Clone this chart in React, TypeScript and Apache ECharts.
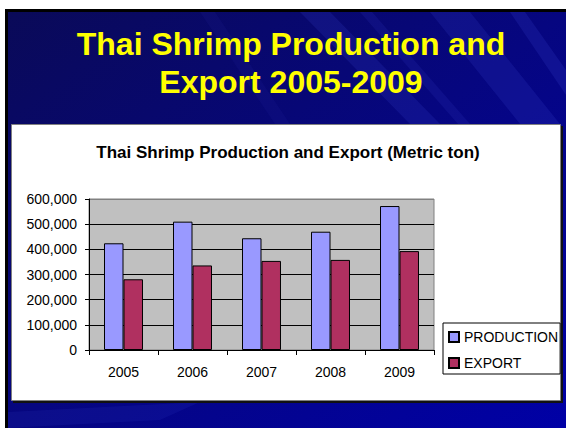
import React, { useEffect, useRef } from "react";
import * as echarts from "echarts";

const years = ["2005", "2006", "2007", "2008", "2009"];
const production = [424000, 510000, 444000, 470000, 572000];
const exportVals = [281000, 336000, 354000, 358000, 393000];
const seriesNames = ["PRODUCTION", "EXPORT"];
const titleLines = ["Thai Shrimp Production and", "Export 2005-2009"];
const chartTitle = "Thai Shrimp Production and Export (Metric ton)";

const FONT = 'Arial, "Liberation Sans", Helvetica, sans-serif';

export default function App() {
  const ref = useRef<HTMLDivElement>(null);
  useEffect(() => {
    if (!ref.current) return;
    const chart = echarts.init(ref.current, null, { renderer: "svg" });
    const streak = (pts: number[][], op: number) => ({
      type: "polygon",
      z: -9,
      silent: true,
      shape: { points: pts },
      style: { fill: `rgba(60,70,210,${op})` },
    });
    const titleStyle = (text: string, y: number) => ({
      type: "text",
      z: 5,
      style: {
        x: 291,
        y,
        text,
        fill: "#ffff00",
        font: `bold 32px ${FONT}`,
        align: "center",
        verticalAlign: "middle",
        textShadowColor: "rgba(0,0,0,0.85)",
        textShadowOffsetX: 2,
        textShadowOffsetY: 2,
        textShadowBlur: 0,
      },
    });
    chart.setOption({
      animation: false,
      backgroundColor: "#ffffff",
      textStyle: { fontFamily: FONT },
      graphic: [
        { type: "rect", z: -10, silent: true, shape: { x: 5, y: 9, width: 561, height: 419 }, style: { fill: "#000" } },
        {
          type: "rect",
          z: -10,
          silent: true,
          shape: { x: 8, y: 12, width: 558, height: 416 },
          style: {
            fill: new echarts.graphic.LinearGradient(0, 0, 1, 1, [
              { offset: 0, color: "#0a0a58" },
              { offset: 0.5, color: "#060680" },
              { offset: 1, color: "#0000a6" },
            ]),
          },
        },
        streak([[300, 12], [330, 12], [440, 124], [410, 124]], 0.18),
        streak([[360, 12], [372, 12], [470, 124], [458, 124]], 0.15),
        streak([[430, 12], [470, 12], [560, 124], [520, 124]], 0.18),
        streak([[510, 12], [525, 12], [566, 70], [566, 95]], 0.2),
        streak([[200, 12], [215, 12], [290, 124], [275, 124]], 0.08),
        streak([[8, 428], [8, 412], [200, 402], [160, 420]], 0.12),
        titleStyle(titleLines[0], 43.5),
        titleStyle(titleLines[1], 82),
        { type: "rect", z: -8, silent: true, shape: { x: 13, y: 126, width: 550, height: 277 }, style: { fill: "#111" } },
        {
          type: "rect",
          z: -7,
          silent: true,
          shape: { x: 11.5, y: 124.5, width: 549, height: 276 },
          style: { fill: "#fff", stroke: "#808080", lineWidth: 1 },
        },
        {
          type: "text",
          z: 5,
          style: {
            x: 288,
            y: 152,
            text: chartTitle,
            fill: "#000",
            font: `bold 17px ${FONT}`,
            align: "center",
            verticalAlign: "middle",
          },
        },
      ],
      grid: {
        left: 89,
        top: 199,
        width: 345,
        height: 151,
        show: true,
        backgroundColor: "#c0c0c0",
        borderColor: "#808080",
        borderWidth: 1,
        containLabel: false,
      },
      legend: {
        orient: "vertical",
        left: 443,
        top: 323,
        data: seriesNames,
        icon: "rect",
        itemWidth: 10,
        itemHeight: 10,
        itemGap: 12,
        itemTextGap: 2,
        padding: [7, 2, 4, 5],
        borderColor: "#000",
        borderWidth: 1,
        backgroundColor: "#fff",
        textStyle: { fontSize: 14, color: "#000", fontFamily: FONT },
      },
      xAxis: {
        type: "category",
        data: years,
        axisLine: { show: true, lineStyle: { color: "#000", width: 1 } },
        axisTick: { show: true, length: 5, alignWithLabel: false, lineStyle: { color: "#000" } },
        axisLabel: { fontSize: 14, color: "#000", margin: 15, fontFamily: FONT },
        splitLine: { show: false },
      },
      yAxis: {
        type: "value",
        min: 0,
        max: 600000,
        interval: 100000,
        axisLine: { show: true, lineStyle: { color: "#000", width: 1 } },
        axisTick: { show: true, length: 4, inside: false, lineStyle: { color: "#000" } },
        axisLabel: {
          fontSize: 14,
          color: "#000",
          margin: 12,
          fontFamily: FONT,
          formatter: (v: number) => v.toLocaleString("en-US"),
        },
        splitLine: {
          show: true,
          lineStyle: {
            color: ["#000", "#000", "#000", "#000", "#000", "#000", "#808080"],
            width: 1,
          },
        },
      },
      series: [
        {
          name: seriesNames[0],
          type: "bar",
          data: production,
          barGap: "0%",
          barCategoryGap: "43.5%",
          itemStyle: { color: "#9999ff", borderColor: "#000", borderWidth: 1 },
        },
        {
          name: seriesNames[1],
          type: "bar",
          data: exportVals,
          barGap: "0%",
          barCategoryGap: "43.5%",
          itemStyle: { color: "#b03060", borderColor: "#000", borderWidth: 1 },
        },
      ],
    });
    return () => chart.dispose();
  }, []);
  return (
    <div
      ref={ref}
      style={{ position: "absolute", left: 0, top: 0, width: 566, height: 428 }}
    />
  );
}
